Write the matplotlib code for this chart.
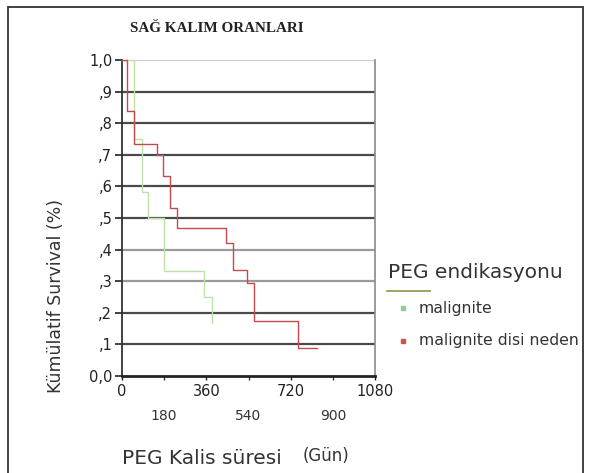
import matplotlib
matplotlib.use("Agg")
import matplotlib.pyplot as plt
from matplotlib.lines import Line2D
from matplotlib.patches import Rectangle

# Kaplan-Meier steps
malign_days = [0, 51, 85, 111, 179, 350, 383]
malign_surv = [1.0, 0.75, 0.583, 0.5, 0.333, 0.25, 0.167]

other_days = [0, 21, 51, 148, 175, 205, 233, 442, 474, 532, 563, 751, 832]
other_surv = [1.0, 0.838, 0.733, 0.70, 0.633, 0.533, 0.467, 0.42, 0.336, 0.295, 0.175, 0.088, 0.088]

y_ticks = [0.0, 0.1, 0.2, 0.3, 0.4, 0.5, 0.6, 0.7, 0.8, 0.9, 1.0]
y_labels = ["0,0", ",1", ",2", ",3", ",4", ",5", ",6", ",7", ",8", ",9", "1,0"]
x_major = [0, 360, 720, 1080]
x_minor = [180, 540, 900]

legend_title = "PEG endikasyonu"
group_names = ["malignite", "malignite disi neden"]

W, H = 593, 473
plt.rcParams['font.family'] = ['DejaVu Sans']
fig = plt.figure(figsize=(W / 100, H / 100), dpi=100)

def fx(px):
    return px / W

def fy(py):
    return 1 - py / H

# frame round the whole picture
fig.add_artist(Rectangle((fx(8), fy(480)), fx(583) - fx(8), fy(7) - fy(480),
                         transform=fig.transFigure, fill=False, lw=1.3, ec="#333333"))

ax = fig.add_axes([fx(122), fy(376), fx(375) - fx(122), fy(60) - fy(376)])

# horizontal reference lines
for v in y_ticks[1:-1]:
    c = "#9a9a9a" if v in (0.3, 0.4) else "#4a4a4a"
    ax.axhline(v, color=c, lw=1.6, zorder=1)
ax.axhline(1.0, color="#d0d0d0", lw=1.6, zorder=1)

ax.step(malign_days, malign_surv, where="post", color="#bfe0a8", lw=1.0, zorder=3, clip_on=False)
ax.step(other_days, other_surv, where="post", color="#c44a50", lw=1.0, zorder=4, clip_on=False)

ax.set_xlim(0, 1080)
ax.set_ylim(0, 1.0)
ax.set_yticks(y_ticks)
ax.set_yticklabels(y_labels)
ax.set_xticks(x_major)
ax.set_xticklabels([str(v) for v in x_major])
ax.set_xticks(x_minor, minor=True)
ax.set_xticklabels([str(v) for v in x_minor], minor=True)

ax.tick_params(axis="y", length=5, width=1.2, pad=2, labelsize=10.5, colors="#222222")
ax.tick_params(axis="x", which="major", length=3, width=1, pad=3, labelsize=10.5, colors="#222222")
ax.tick_params(axis="x", which="minor", length=3, width=1, pad=21, labelsize=10, colors="#333333")

ax.spines["top"].set_visible(False)
ax.spines["right"].set_color("#8a8a8a")
ax.spines["right"].set_linewidth(1.2)
ax.spines["left"].set_color("#333333")
ax.spines["left"].set_linewidth(1.3)
ax.spines["bottom"].set_color("#222222")
ax.spines["bottom"].set_linewidth(2)

fig.text(fx(217), fy(28), "SAĞ KALIM ORANLARI", family="Liberation Serif", weight="bold",
         fontsize=10.9, ha="center", va="center", color="#222222")
fig.text(fx(56), fy(296), "Kümülatif Survival (%)", rotation=90, fontsize=12.5,
         ha="center", va="center", color="#333333")
fig.text(fx(122), fy(458), "PEG Kalis süresi", fontsize=14.5, ha="left", va="center", color="#333333")
fig.text(fx(303), fy(456), "(Gün)", fontsize=12, ha="left", va="center", color="#333333")

# legend
fig.text(fx(388), fy(272), legend_title, fontsize=14.5, ha="left", va="center", color="#333333")
fig.add_artist(Line2D([fx(387), fx(430)], [fy(291), fy(291)], transform=fig.transFigure,
                      color="#9c9a5a", lw=1.3))
marker_colors = ["#8fcf8f", "#d05050"]
for i, (name, mc) in enumerate(zip(group_names, marker_colors)):
    yy = 308 + i * 33
    fig.add_artist(Line2D([fx(403)], [fy(yy)], transform=fig.transFigure, marker="s",
                          markersize=3, color=mc, lw=0))
    fig.text(fx(419), fy(yy), name, fontsize=11.3, ha="left", va="center", color="#333333")

fig.savefig("out.png", dpi=100)
